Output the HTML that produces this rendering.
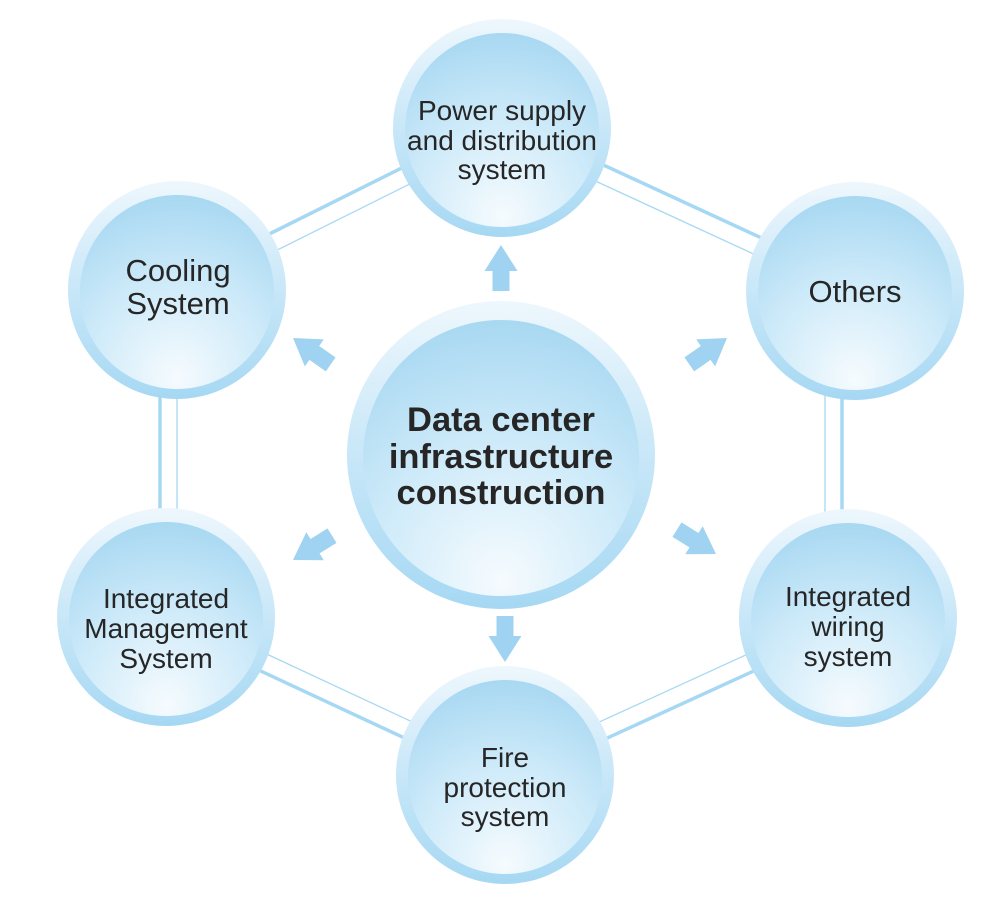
<!DOCTYPE html>
<html><head><meta charset="utf-8"><style>
html,body{margin:0;padding:0;background:#fff;}
svg{display:block;}
text{font-family:"Liberation Sans",Arial,sans-serif;fill:#262626;text-anchor:middle;}
</style></head><body>
<svg width="1000" height="918" viewBox="0 0 1000 918" xmlns="http://www.w3.org/2000/svg">
<defs>
<linearGradient id="rim" x1="0" y1="0" x2="0" y2="1">
<stop offset="0" stop-color="#eef7fd"/><stop offset="0.5" stop-color="#c8e7f8"/><stop offset="1" stop-color="#a6d8f3"/>
</linearGradient>
<radialGradient id="fill" cx="0.5" cy="0.85" r="0.85" fx="0.5" fy="0.95">
<stop offset="0" stop-color="#f6fbfe"/><stop offset="0.55" stop-color="#cdeaf9"/><stop offset="1" stop-color="#a8d8f2"/>
</radialGradient>
<g id="arrow"><polygon points="0,0 16.5,26 8.5,26 8.5,46 -8.5,46 -8.5,26 -16.5,26" fill="#9fd3f1"/></g>
</defs>
<g stroke="#a6d8f3" fill="none">
<line x1="177" y1="290" x2="502" y2="128" stroke-width="3.5" transform="translate(-4,-8)"/>
<line x1="177" y1="290" x2="502" y2="128" stroke-width="1.3" transform="translate(4,8)"/>
<line x1="502" y1="128" x2="855" y2="291" stroke-width="3.5" transform="translate(4,-8)"/>
<line x1="502" y1="128" x2="855" y2="291" stroke-width="1.3" transform="translate(-4,8)"/>
<line x1="842" y1="291" x2="842" y2="618" stroke-width="3.5"/>
<line x1="825" y1="291" x2="825" y2="618" stroke-width="1.3"/>
<line x1="160" y1="290" x2="160" y2="617" stroke-width="3.5"/>
<line x1="177" y1="290" x2="177" y2="617" stroke-width="1.3"/>
<line x1="166" y1="617" x2="505" y2="775" stroke-width="3.5" transform="translate(-4,8)"/>
<line x1="166" y1="617" x2="505" y2="775" stroke-width="1.3" transform="translate(4,-8)"/>
<line x1="505" y1="775" x2="848" y2="618" stroke-width="3.5" transform="translate(4,8)"/>
<line x1="505" y1="775" x2="848" y2="618" stroke-width="1.3" transform="translate(-4,-8)"/>
</g>
<use href="#arrow" transform="translate(501,245)"/>
<use href="#arrow" transform="translate(293,338) rotate(-55)"/>
<use href="#arrow" transform="translate(727,338) rotate(55)"/>
<use href="#arrow" transform="translate(293,560) rotate(-122)"/>
<use href="#arrow" transform="translate(716,554) rotate(122)"/>
<use href="#arrow" transform="translate(505,662) rotate(180)"/>
<g>
<circle cx="502" cy="128" r="109" fill="url(#rim)"/><circle cx="502" cy="130" r="97" fill="url(#fill)"/>
<circle cx="177" cy="290" r="109" fill="url(#rim)"/><circle cx="177" cy="292" r="97" fill="url(#fill)"/>
<circle cx="855" cy="291" r="109" fill="url(#rim)"/><circle cx="855" cy="293" r="97" fill="url(#fill)"/>
<circle cx="166" cy="617" r="109" fill="url(#rim)"/><circle cx="166" cy="619" r="97" fill="url(#fill)"/>
<circle cx="848" cy="618" r="109" fill="url(#rim)"/><circle cx="848" cy="620" r="97" fill="url(#fill)"/>
<circle cx="505" cy="775" r="109" fill="url(#rim)"/><circle cx="505" cy="777" r="97" fill="url(#fill)"/>
<circle cx="501" cy="455" r="154" fill="url(#rim)"/><circle cx="501" cy="458" r="138" fill="url(#fill)"/>
</g>
<g font-size="28">
<text x="502" y="120">Power supply</text>
<text x="502" y="150">and distribution</text>
<text x="502" y="179">system</text>
<text x="848" y="606">Integrated</text>
<text x="848" y="636">wiring</text>
<text x="848" y="666">system</text>
<text x="166" y="608">Integrated</text>
<text x="166" y="638">Management</text>
<text x="166" y="668">System</text>
<text x="505" y="767">Fire</text>
<text x="505" y="797">protection</text>
<text x="505" y="826">system</text>
</g>
<g font-size="31">
<text x="178" y="281">Cooling</text>
<text x="178" y="314">System</text>
<text x="855" y="302">Others</text>
</g>
<g font-size="34.5" font-weight="bold">
<text x="501" y="431">Data center</text>
<text x="501" y="468">infrastructure</text>
<text x="501" y="504">construction</text>
</g>
</svg>
</body></html>
